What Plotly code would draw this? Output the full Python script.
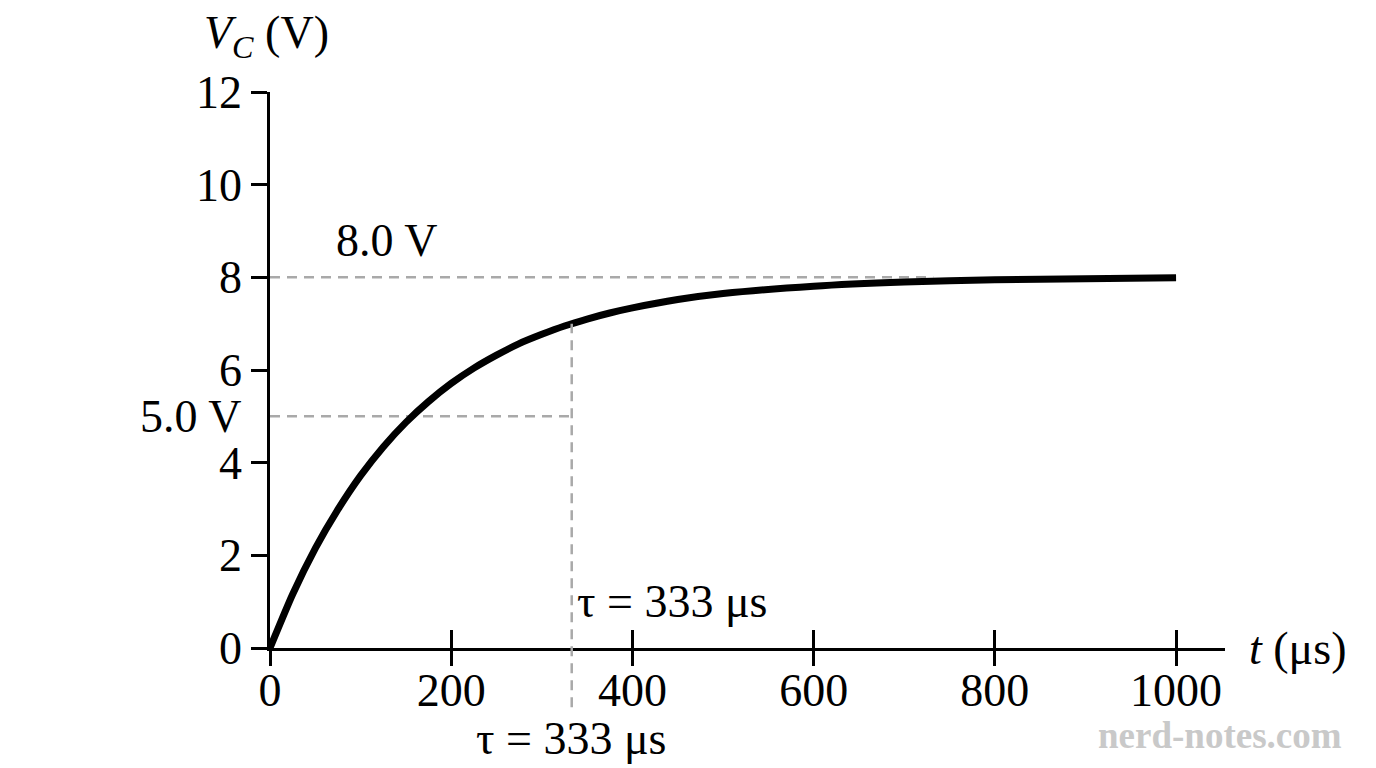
import plotly.graph_objects as go

# capacitor voltage (t in µs, V in volts)
t_us = [0, 25, 50, 75, 100, 125, 150, 175, 200, 225, 250, 275, 300, 325, 350,
        375, 400, 450, 500, 600, 700, 800, 900, 1000]
v_c = [0, 1.16, 2.15, 2.99, 3.72, 4.34, 4.87, 5.32, 5.71, 6.04, 6.32, 6.57,
       6.77, 6.95, 7.10, 7.23, 7.34, 7.52, 7.65, 7.81, 7.90, 7.95, 7.97, 7.99]

x_ticks = [0, 200, 400, 600, 800, 1000]
y_ticks = [0, 2, 4, 6, 8, 10, 12]

v_final = 8.0
v_half = 5.0
tau_mark = 333
v_at_tau = 7.0
final_guide_end = 732

x_max = 1054
y_max = 12

FONT = "Liberation Serif"
DASH_COLOR = "#a9a9a9"
DASH = "10px,7px"

fig = go.Figure()

# guides
fig.add_trace(go.Scatter(x=[0, final_guide_end], y=[v_final, v_final], mode="lines",
                         line=dict(color=DASH_COLOR, width=2.5, dash=DASH),
                         hoverinfo="skip"))
fig.add_trace(go.Scatter(x=[0, tau_mark], y=[v_half, v_half], mode="lines",
                         line=dict(color=DASH_COLOR, width=2.5, dash=DASH),
                         hoverinfo="skip"))
fig.add_shape(type="line", xref="x", yref="paper", x0=tau_mark, x1=tau_mark,
              y0=-1.28 / y_max, y1=v_at_tau / y_max,
              line=dict(color=DASH_COLOR, width=2.5, dash=DASH))

# charging curve
fig.add_trace(go.Scatter(x=t_us, y=v_c, mode="lines",
                         line=dict(color="black", width=7, shape="spline", smoothing=0.6),
                         cliponaxis=False))

axis_font = dict(family=FONT, size=46, color="black")

fig.update_layout(
    width=1376, height=768,
    margin=dict(l=262, r=159, t=84, b=128),
    paper_bgcolor="white", plot_bgcolor="white",
    showlegend=False,
    font=dict(family=FONT, color="black"),
    # labelled axis carries the upper half of each tick
    xaxis=dict(range=[0, x_max], tickvals=x_ticks, showline=True, linecolor="black",
               linewidth=2.5, ticks="inside", ticklen=18, tickwidth=2.5,
               tickcolor="black", tickfont=axis_font, showgrid=False, zeroline=False),
    # overlay axis draws the lower half
    xaxis2=dict(range=[0, x_max], overlaying="x", anchor="y", side="bottom",
                tickvals=x_ticks, showticklabels=False, ticks="outside", ticklen=17,
                tickwidth=2.5, tickcolor="black", showgrid=False, zeroline=False,
                showline=False),
    yaxis=dict(range=[0, y_max], tickvals=y_ticks, showline=True, linecolor="black",
               linewidth=2.5, ticks="outside", ticklen=16, tickwidth=2.5,
               tickcolor="black", tickfont=axis_font, showgrid=False, zeroline=False),
)

fig.add_trace(go.Scatter(x=[None], y=[None], xaxis="x2", yaxis="y", hoverinfo="skip"))

txt = dict(family=FONT, size=46, color="black")
fig.add_annotation(x=129, y=8.8, xref="x", yref="y", text="8.0 V", showarrow=False,
                   font=txt, xanchor="center", yanchor="middle")
fig.add_annotation(x=-0.0283, y=v_half, xref="paper", yref="y", text="5.0 V",
                   showarrow=False, font=txt, xanchor="right", yanchor="middle")
fig.add_annotation(x=337, y=1.0, xref="x", yref="y", text="τ = 333 μs", showarrow=False,
                   font=txt, xanchor="left", yanchor="middle")
fig.add_annotation(x=tau_mark, y=-0.162, xref="x", yref="paper", text="τ = 333 μs",
                   showarrow=False, font=txt, xanchor="center", yanchor="middle")
fig.add_annotation(x=1.0764, y=0, xref="paper", yref="y", text="<i>t</i> (μs)",
                   showarrow=False, font=txt, xanchor="center", yanchor="middle")
fig.add_annotation(x=-0.004, y=1.1, xref="paper", yref="paper",
                   text="<i>V</i><sub><i>C</i></sub> (V)",
                   showarrow=False, font=txt, xanchor="center", yanchor="middle")
fig.add_annotation(x=0.9948, y=-0.158, xref="paper", yref="paper",
                   text="<b>nerd-notes.com</b>",
                   showarrow=False, xanchor="center", yanchor="middle",
                   font=dict(family=FONT, size=37, color="#c9c9c9"))

fig.write_html("out.html")
